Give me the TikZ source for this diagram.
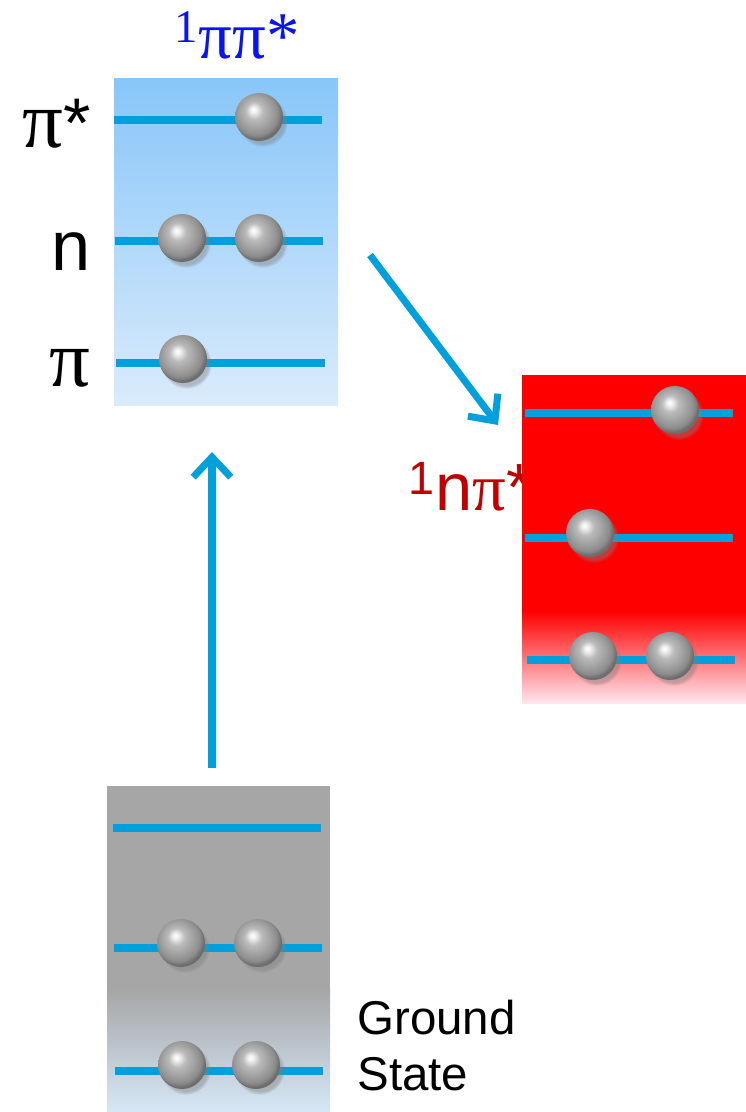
\documentclass[tikz,border=0pt]{standalone}
\usepackage{fontspec}
\setmainfont{Liberation Sans}
\newfontfamily\timesgr{Liberation Serif}
\usetikzlibrary{arrows.meta,shadows}
\definecolor{levelline}{HTML}{00A0DC}
\definecolor{pptop}{HTML}{88C6F9}
\definecolor{ppbot}{HTML}{DAEBFB}
\definecolor{npred}{HTML}{FF0000}
\definecolor{npbot}{HTML}{FFE6EE}
\definecolor{gsgray}{HTML}{A6A6A6}
\definecolor{gsbot}{HTML}{D6E7F7}
\definecolor{ppink}{HTML}{0A14F0}
\definecolor{npink}{HTML}{C00000}
\pgfdeclareradialshading{electronball}{\pgfpoint{-6bp}{8bp}}{%
  color(0bp)=(white); color(3bp)=(black!6); color(9bp)=(black!27);
  color(17bp)=(black!37); color(23bp)=(black!45); color(27bp)=(black!58);
  color(34bp)=(black!50); color(50bp)=(black!50)}
\tikzset{
 every node/.append style={inner sep=0pt},
 level/.style={draw=levelline,line width=4pt},
 electron/.style={circle,minimum size=9.6mm,inner sep=0pt,shading=electronball,
   circular drop shadow={shadow xshift=.7mm,shadow yshift=-.9mm,opacity=.45,shadow scale=1.05}},
 flow/.style={-{Straight Barb[length=4mm,width=7.5mm]},draw=levelline,line width=4pt},
 orbital/.style={font=\fontsize{40}{44}\selectfont,anchor=base east},
}

\begin{document}
\begin{tikzpicture}[x=.2mm,y=-.2mm]
\useasboundingbox (0,0) rectangle (746,1112);

% 1pipi* state
\shade[top color=pptop,bottom color=ppbot] (114,78) rectangle (338,405);
\draw[level] (114,120) -- (322,120);
\draw[level] (115,241) -- (323,241);
\draw[level] (116,363) -- (325,363);
\node[electron] (pp1) at (259,117) {};
\node[electron] (pp2) at (182,238) {};
\node[electron] (pp3) at (259,238) {};
\node[electron] (pp4) at (183,359) {};
\node[text=ppink,font=\fontsize{38}{42}\selectfont\timesgr,anchor=base west] (pplab) at (174,58)
  {\textsuperscript{1}ππ*};

\node[orbital] (lpistar) at (91,147) {{\timesgr\fontsize{46}{50}\selectfont π}*};
\node[orbital] (ln) at (91,270) {n};
\node[orbital] (lpi) at (91,386) {\timesgr\fontsize{46}{50}\selectfont π};

% 1npi* state
\node[text=npink,font=\fontsize{38}{42}\selectfont,anchor=base west] (nplab) at (408,510)
  {\textsuperscript{1}n{\timesgr π}*};
\fill[npred] (522,375) rectangle (746,612);
\shade[top color=npred,bottom color=npbot] (522,611) rectangle (746,703);
\draw[level] (525,413) -- (733,413);
\draw[level] (525,538) -- (733,538);
\draw[level] (527,660) -- (735,660);
\node[electron] (np1) at (675,410) {};
\node[electron] (np2) at (590,533) {};
\node[electron] (np3) at (593,656) {};
\node[electron] (np4) at (670,656) {};

% ground state
\fill[gsgray] (107,786) rectangle (330,990);
\shade[top color=gsgray,bottom color=gsbot] (107,989) rectangle (330,1112);
\draw[level] (113,828) -- (321,828);
\draw[level] (114,948) -- (322,948);
\draw[level] (115,1071) -- (323,1071);
\node[electron] (gs1) at (181,943) {};
\node[electron] (gs2) at (258,943) {};
\node[electron] (gs3) at (182,1065) {};
\node[electron] (gs4) at (256,1065) {};
\node[font=\fontsize{27}{32}\selectfont,align=left,anchor=north west] (gslab) at (357,1000)
  {Ground\\State};

% transitions
\coordinate (up0) at (212,768);
\coordinate (up1) at (212,452);
\coordinate (ic0) at (370,255);
\coordinate (ic1) at (498,425);
\draw[flow] (up0) -- (up1);
\draw[flow] (ic0) -- (ic1);
\end{tikzpicture}
\end{document}
